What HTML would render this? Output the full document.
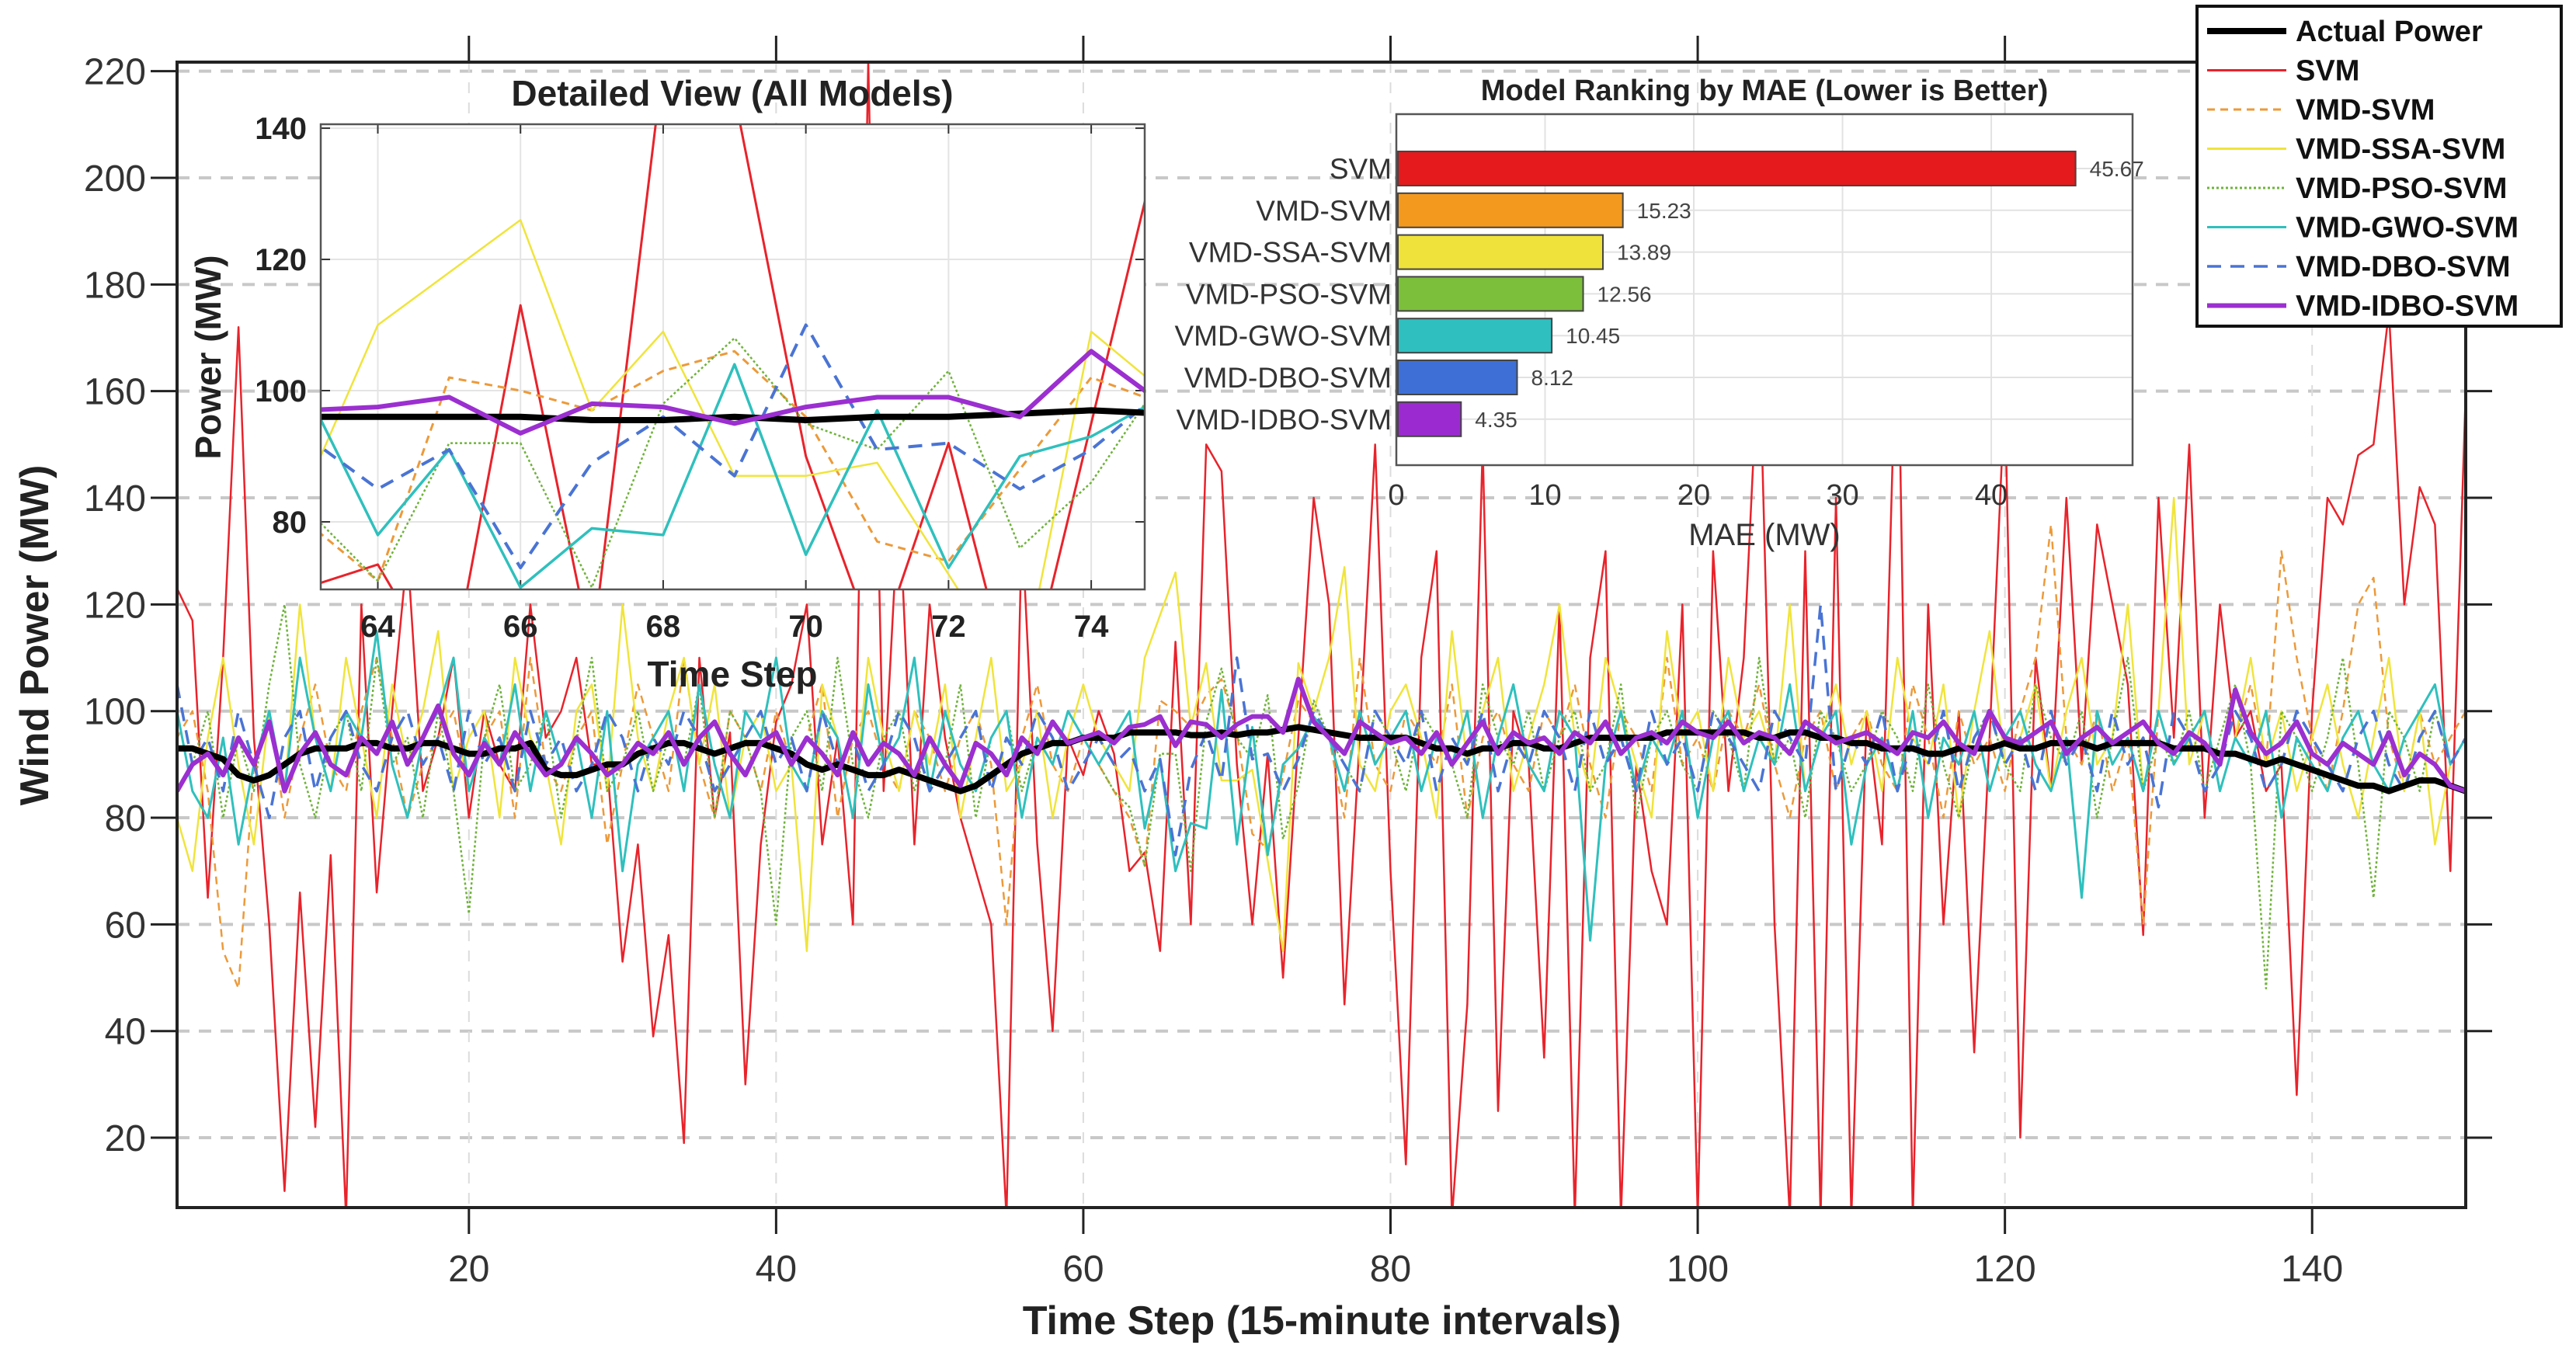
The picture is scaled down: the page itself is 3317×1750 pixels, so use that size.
<!DOCTYPE html>
<html><head><meta charset="utf-8"><style>
html,body{margin:0;padding:0;background:#fff;}
svg{display:block;font-family:"Liberation Sans",Arial,sans-serif;}
</style></head><body>
<svg id="chart" width="3317" height="1750" viewBox="0 0 3317 1750" xmlns="http://www.w3.org/2000/svg">
<defs>
<clipPath id="mainClip"><rect x="228" y="80" width="2947" height="1475"/></clipPath>
<clipPath id="insClip"><rect x="413" y="160" width="1061" height="599"/></clipPath>
</defs>
<g id="main"></g>
<g id="inset1"></g>
<g id="inset2"></g>
<g id="legend"></g>
</svg>
<script>
const seriesNames = ["Actual Power","SVM","VMD-SVM","VMD-SSA-SVM","VMD-PSO-SVM","VMD-GWO-SVM","VMD-DBO-SVM","VMD-IDBO-SVM"];
const actual = [93,93,92,91,88,87,88,90,92,93, 93,93,94,94,93,93,94,94,93,92, 92,93,93,94,89,88,88,89,90,90, 92,93,94,94,93,92,93,94,94,93, 92,90,89,90,89,88,88,89,88,87, 86,85,86,88,90,92,93,94,94,95, 95,95,96,96,96,96,95.5,95.5,96,95.5, 96,96,96.5,97,96.5,96,95.5,95,95,95, 95,94,93,93,92,93,93,94,94,93, 93,94,95,95,95,95,95,96,96,96, 96,96,96,95,95,96,96,95,95,94, 94,93,93,93,92,92,93,93,93,94, 93,93,94,94,94,93,94,94,94,94, 93,93,93,92,92,91,90,91,90,89, 88,87,86,86,85,86,87,87,86,85];
const svm = [123,117,65,110,172,95,60,10,66,22, 73,5,120,66,100,130,85,95,110,80, 100,90,85,120,95,100,110,90,90,53, 75,39,58,19,110,80,96,30,75,98, 105,120,75,95,60,222,85,140,75,120, 95,80,70,60,5,135,75,40,95,88, 100,92,70,73.5,55,113,60,150,145,90, 60,92,50,95,140,120,45,95,150,70, 15,110,130,5,45,150,25,100,90,35, 120,5,110,130,5,90,70,60,120,5, 130,85,110,170,60,5,130,5,140,5, 100,75,180,5,120,60,100,36,95,160, 20,110,85,140,90,135,120,105,58,140, 95,150,80,120,95,100,85,90,28,100, 140,135,148,150,175,120,142,135,70,160];
const vmdSvm = [95,100,85,55,48,90,100,80,95,105, 90,85,100,110,95,80,90,95,100,85, 95,100,80,110,90,85,95,100,75,90, 105,95,85,110,90,80,100,95,85,100, 90,95,105,80,95,100,90,85,100,95, 85,95,100,90,60,95,105,90,85,95, 90,85,80,71,102,100,97,103,106,96, 77,74,88,102,98,95,80,110,90,85, 100,95,90,105,80,95,100,90,85,100, 95,105,90,80,100,95,85,110,90,95, 85,100,95,105,90,80,95,100,85,95, 100,90,85,105,95,80,100,90,95,85, 100,110,135,95,90,100,85,95,60,100, 90,95,100,85,95,105,90,130,110,95, 85,100,120,125,95,85,100,90,95,100];
const ssa = [80,70,95,110,90,75,100,85,120,95, 85,110,95,80,105,90,100,115,85,95, 100,80,110,95,90,75,100,105,85,120, 95,85,100,110,90,105,80,95,100,85, 90,55,105,95,80,110,95,85,100,90, 105,80,95,110,85,90,100,80,95,105, 95,90,85,110,118,126,97,109,87,87, 89,72,55,109,100,110,127,90,85,100, 105,95,80,115,90,100,110,85,95,105, 120,95,85,110,100,90,80,115,95,100, 85,110,95,100,90,120,85,95,105,90, 100,85,110,95,90,105,80,100,115,90, 95,105,85,100,110,90,95,120,85,100, 140,90,100,85,95,110,90,100,85,95, 105,90,80,95,110,85,100,75,90,95];
const pso = [85,90,100,80,95,85,105,120,90,80, 95,100,85,110,90,95,80,100,85,62, 95,105,85,90,100,80,95,110,85,90, 100,85,95,90,105,80,100,95,85,60, 95,100,85,110,90,80,95,100,85,95, 90,105,80,95,100,85,95,90,100,95, 90,85,82,71,92,92,70,98,108,95, 91,103,76,86,102,95,90,85,100,95, 85,100,95,90,80,105,95,90,100,85, 95,100,85,90,105,80,95,100,90,85, 100,95,85,110,90,95,80,100,95,85, 90,100,95,85,105,90,80,95,100,90, 85,105,95,90,100,80,95,110,85,95, 90,100,85,95,105,90,48,100,95,85, 95,110,90,65,100,95,85,100,90,95];
const gwo = [100,85,80,95,75,90,100,85,110,95, 85,100,95,115,90,80,95,100,110,85, 95,90,105,85,100,90,95,80,100,70, 90,95,100,85,105,90,80,100,95,110, 90,85,100,95,80,105,90,95,110,85, 100,90,85,95,100,80,95,90,100,95, 90,95,100,78,91,70,79,78,104,75, 97,73,90,93,99,95,85,100,90,95, 100,85,95,90,100,80,95,105,90,85, 100,95,57,90,100,85,95,90,100,80, 95,100,85,95,90,105,85,95,100,75, 90,95,85,100,80,95,90,100,85,95, 100,90,85,95,65,100,90,95,85,100, 90,95,100,85,95,90,100,80,95,90, 85,95,100,90,85,95,100,105,90,95];
const dbo = [105,90,95,85,100,90,80,95,100,85, 95,100,90,85,95,100,90,95,85,100, 90,95,85,100,90,95,85,90,100,95, 85,95,90,100,95,85,90,95,100,90, 95,85,100,90,95,85,90,100,95,85, 90,95,100,85,95,90,100,95,85,90, 95,90,93,85,91,73,89,96,87,110, 91,92,85,91,100,95,90,85,100,95, 90,100,85,95,90,100,85,95,90,100, 95,85,100,90,95,85,100,90,95,85, 100,95,90,85,100,95,90,120,85,95, 90,100,85,95,90,100,85,95,100,90, 95,85,100,90,95,85,100,90,95,82, 100,95,85,90,100,95,85,90,100,95, 90,85,95,100,90,85,95,100,90,95];
const idbo = [85,90,92,88,95,90,98,85,92,96, 90,88,95,92,98,90,95,101,92,88, 94,90,96,92,88,90,95,92,88,90, 94,92,96,90,95,98,92,88,94,96, 90,95,92,88,96,90,94,92,88,95, 90,86,94,92,88,95,92,98,94,95, 96,94,97,97.5,99,93.5,98,97.5,95,97.5, 99,99,96,106,98,95,92,98,96,94, 95,92,96,90,94,98,92,96,94,95, 92,96,94,98,92,95,96,94,98,96, 95,98,94,96,95,92,98,96,94,95, 96,94,92,96,95,98,94,92,100,95, 94,96,98,92,95,97,94,96,98,94, 92,96,94,90,104,96,92,94,98,92, 90,94,92,90,96,88,92,90,86,85];
const maeModels = ["SVM","VMD-SVM","VMD-SSA-SVM","VMD-PSO-SVM","VMD-GWO-SVM","VMD-DBO-SVM","VMD-IDBO-SVM"];
const maeValues = [45.67,15.23,13.89,12.56,10.45,8.12,4.35];
const maeLabels = ["45.67","15.23","13.89","12.56","10.45","8.12","4.35"];
const mainXTicks = [20,40,60,80,100,120,140];
const mainYTicks = [20,40,60,80,100,120,140,160,180,200,220];
const insXTicks = [64,66,68,70,72,74];
const insYTicks = [80,100,120,140];
const maeTicks = [0,10,20,30,40];

const NS="http://www.w3.org/2000/svg";
function mk(parent,tag,attrs,text){const e=document.createElementNS(NS,tag);for(const k in attrs)e.setAttribute(k,attrs[k]);if(text!==undefined)e.textContent=text;parent.appendChild(e);return e;}

const styles = [
 {data:actual,color:"#000000",w:8,dash:"",insW:8},
 {data:svm,color:"#e8232b",w:2.5,dash:"",insW:3},
 {data:vmdSvm,color:"#ec9a3a",w:2.5,dash:"10,7",insW:3},
 {data:ssa,color:"#f0e43c",w:2.5,dash:"",insW:2.5},
 {data:pso,color:"#6fb33a",w:2.5,dash:"3,3",insW:2.5},
 {data:gwo,color:"#2fc0bd",w:3,dash:"",insW:3.5},
 {data:dbo,color:"#4a74d4",w:3.5,dash:"18,12",insW:4},
 {data:idbo,color:"#9b2fd0",w:6,dash:"",insW:6}
];
const drawOrder=[1,2,3,4,5,6,0,7];

const M={l:228,r:3175,t:80,b:1555,x0:1,x1:150,y0:6.9,y1:221.7};
const mx=v=>M.l+(v-M.x0)/(M.x1-M.x0)*(M.r-M.l);
const my=v=>M.b-(v-M.y0)/(M.y1-M.y0)*(M.b-M.t);
const gm=document.getElementById('main');
mk(gm,'rect',{x:M.l,y:M.t,width:M.r-M.l,height:M.b-M.t,fill:'#fff'});
mainYTicks.forEach(t=>{
 const g=mk(gm,'line',{x1:M.l,x2:M.r,y1:my(t),y2:my(t),stroke:'#c8c8c8','stroke-width':4,'stroke-dasharray':'16,12'});
 
 
 mk(gm,'line',{x1:M.l-34,x2:M.l,y1:my(t),y2:my(t),stroke:'#222','stroke-width':3});
 mk(gm,'line',{x1:M.r,x2:M.r+34,y1:my(t),y2:my(t),stroke:'#222','stroke-width':3});
 const tl=mk(gm,'text',{x:M.l-40,y:my(t)+17,'text-anchor':'end','font-size':48,fill:'#333'},String(t));
 
 
});
mainXTicks.forEach(t=>{
 mk(gm,'line',{x1:mx(t),x2:mx(t),y1:M.t,y2:M.b,stroke:'#dcdcdc','stroke-width':2,'stroke-dasharray':'14,12'});
 mk(gm,'line',{x1:mx(t),x2:mx(t),y1:M.b,y2:M.b+34,stroke:'#222','stroke-width':3});
 mk(gm,'line',{x1:mx(t),x2:mx(t),y1:M.t-34,y2:M.t,stroke:'#222','stroke-width':3});
 const tl=mk(gm,'text',{x:mx(t),y:1650,'text-anchor':'middle','font-size':48,fill:'#333'},String(t));
 
 
});
const sg=mk(gm,'g',{'clip-path':'url(#mainClip)'});
drawOrder.forEach(i=>{
 const s=styles[i];
 const pts=s.data.map((v,k)=>mx(k+1).toFixed(1)+','+my(v).toFixed(1)).join(' ');
 const p=mk(sg,'polyline',{points:pts,fill:'none',stroke:s.color,'stroke-width':s.w,'stroke-dasharray':s.dash,'stroke-linejoin':'round'});
 
 
});
mk(gm,'rect',{x:M.l,y:M.t,width:M.r-M.l,height:M.b-M.t,fill:'none',stroke:'#222','stroke-width':4});
const xl=mk(gm,'text',{x:1702,y:1718,'text-anchor':'middle','font-size':52,'font-weight':'bold',fill:'#222'},'Time Step (15-minute intervals)');


const yl=mk(gm,'text',{x:0,y:0,transform:'translate(62,818) rotate(-90)','text-anchor':'middle','font-size':52,'font-weight':'bold',fill:'#222'},'Wind Power (MW)');



const I={l:413,r:1474,t:160,b:759,x0:63.2,x1:74.75,y0:69.7,y1:140.6};
const ix=v=>I.l+(v-I.x0)/(I.x1-I.x0)*(I.r-I.l);
const iy=v=>I.b-(v-I.y0)/(I.y1-I.y0)*(I.b-I.t);
const gi=document.getElementById('inset1');


mk(gi,'rect',{x:I.l,y:I.t,width:I.r-I.l,height:I.b-I.t,fill:'#fff'});
insYTicks.forEach(t=>{
 mk(gi,'line',{x1:I.l,x2:I.r,y1:iy(t),y2:iy(t),stroke:'#e4e4e4','stroke-width':2});
 mk(gi,'line',{x1:I.l,x2:I.l+12,y1:iy(t),y2:iy(t),stroke:'#333','stroke-width':2});
 mk(gi,'line',{x1:I.r-12,x2:I.r,y1:iy(t),y2:iy(t),stroke:'#333','stroke-width':2});
 const tl=mk(gi,'text',{x:I.l-18,y:iy(t)+14,'text-anchor':'end','font-size':40,'font-weight':'bold',fill:'#222'},String(t));
 
 
});
insXTicks.forEach(t=>{
 mk(gi,'line',{x1:ix(t),x2:ix(t),y1:I.t,y2:I.b,stroke:'#e4e4e4','stroke-width':2});
 mk(gi,'line',{x1:ix(t),x2:ix(t),y1:I.b-12,y2:I.b,stroke:'#333','stroke-width':2});
 mk(gi,'line',{x1:ix(t),x2:ix(t),y1:I.t,y2:I.t+12,stroke:'#333','stroke-width':2});
 const tl=mk(gi,'text',{x:ix(t),y:820,'text-anchor':'middle','font-size':40,'font-weight':'bold',fill:'#222'},String(t));
 
 
});
const ig=mk(gi,'g',{'clip-path':'url(#insClip)'});
drawOrder.forEach(i=>{
 const s=styles[i];
 const pts=s.data.map((v,k)=>ix(k+1).toFixed(1)+','+iy(v).toFixed(1)).join(' ');
 const p=mk(ig,'polyline',{points:pts,fill:'none',stroke:s.color,'stroke-width':s.insW,'stroke-dasharray':s.dash,'stroke-linejoin':'round'});
 
 
});
mk(gi,'rect',{x:I.l,y:I.t,width:I.r-I.l,height:I.b-I.t,fill:'none',stroke:'#555','stroke-width':2.5});
const it=mk(gi,'text',{x:943,y:136,'text-anchor':'middle','font-size':46,'font-weight':'bold',fill:'#222'},'Detailed View (All Models)');


const ixl=mk(gi,'text',{x:943,y:884,'text-anchor':'middle','font-size':46,'font-weight':'bold',fill:'#222'},'Time Step');


const iyl=mk(gi,'text',{x:0,y:0,transform:'translate(284,460) rotate(-90)','text-anchor':'middle','font-size':46,'font-weight':'bold',fill:'#222'},'Power (MW)');



const B={l:1798,r:2746,t:147,b:599,x0:0,x1:49.5};
const bx=v=>B.l+(v-B.x0)/(B.x1-B.x0)*(B.r-B.l);
const rowY=k=>217+k*53.8;
const barColors=["#e41a1c","#f39a1e","#efe23a","#7cbf3b","#2fbfbf","#3d6fd6","#9b2bd0"];
const gb=document.getElementById('inset2');


mk(gb,'rect',{x:B.l,y:B.t,width:B.r-B.l,height:B.b-B.t,fill:'#fff'});
maeTicks.forEach(t=>{
 mk(gb,'line',{x1:bx(t),x2:bx(t),y1:B.t,y2:B.b,stroke:'#e2e2e2','stroke-width':2});
 const tl=mk(gb,'text',{x:bx(t),y:650,'text-anchor':'middle','font-size':38,fill:'#333'},String(t));
 
 
});
maeModels.forEach((m,k)=>{
 mk(gb,'line',{x1:B.l,x2:B.r,y1:rowY(k),y2:rowY(k),stroke:'#e2e2e2','stroke-width':2});
 const r=mk(gb,'rect',{x:B.l+2,y:rowY(k)-22,width:bx(maeValues[k])-B.l-2,height:44,fill:barColors[k],stroke:'#444','stroke-width':2});
 
 
 const vl=mk(gb,'text',{x:bx(maeValues[k])+18,y:rowY(k)+10,'font-size':28,fill:'#444'},maeLabels[k]);
 
 
 const cl=mk(gb,'text',{x:B.l-6,y:rowY(k)+13,'text-anchor':'end','font-size':37,fill:'#333'},m);
 
 
});
mk(gb,'rect',{x:B.l,y:B.t,width:B.r-B.l,height:B.b-B.t,fill:'none',stroke:'#555','stroke-width':2.5});
const bt=mk(gb,'text',{x:2272,y:129,'text-anchor':'middle','font-size':38,'font-weight':'bold',fill:'#222'},'Model Ranking by MAE (Lower is Better)');


const bxl=mk(gb,'text',{x:2272,y:702,'text-anchor':'middle','font-size':40,fill:'#333'},'MAE (MW)');



const gl=document.getElementById('legend');


mk(gl,'rect',{x:2829,y:8,width:469,height:412,fill:'#fff',stroke:'#111','stroke-width':4});
seriesNames.forEach((n,i)=>{
 const s=styles[i];
 const y=40+i*50.5;
 const e=mk(gl,'g',{});
 
 
 mk(e,'line',{x1:2842,x2:2944,y1:y,y2:y,stroke:s.color,'stroke-width':Math.max(s.w,3),'stroke-dasharray':s.dash});
 mk(e,'text',{x:2956,y:y+13,'font-size':38,'font-weight':'bold',fill:'#111'},n);
});
</script>
</body></html>
